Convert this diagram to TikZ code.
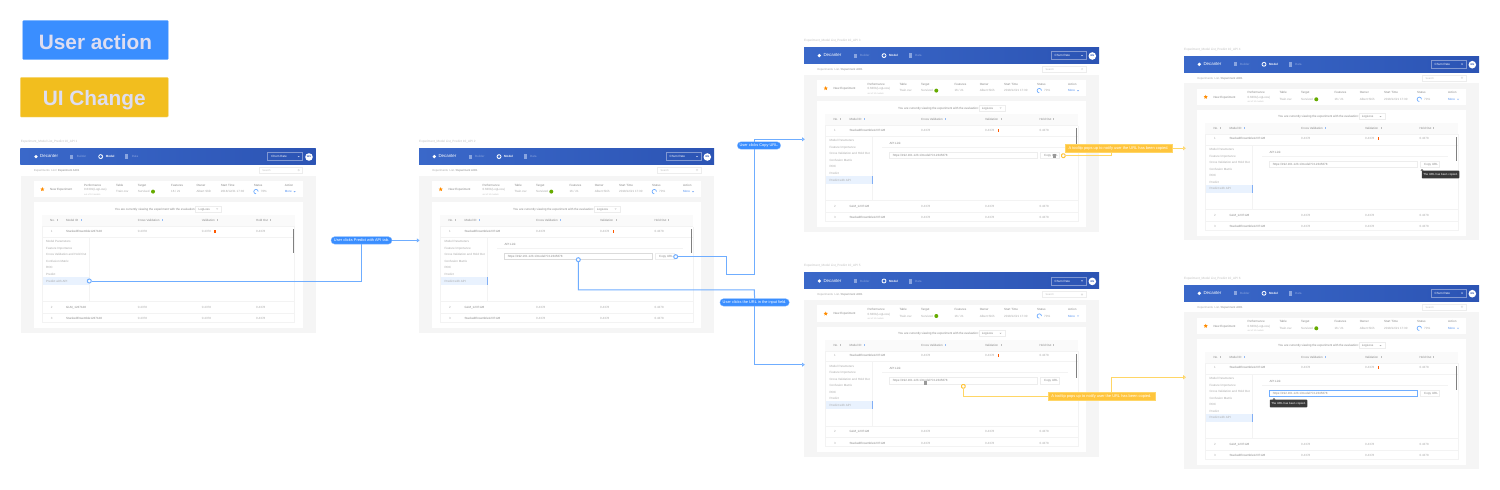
\documentclass[tikz,border=0pt]{standalone}
\usepackage{fontspec}
\setmainfont{Liberation Sans}
\usetikzlibrary{arrows.meta,shapes.geometric,calc}
\definecolor{hdrL}{HTML}{3A68C9}
\definecolor{hdrR}{HTML}{2C54B4}
\definecolor{hdrEdge}{HTML}{7FA6EE}
\definecolor{pageBg}{HTML}{F5F5F5}
\definecolor{headBg}{HTML}{FAFAFA}
\definecolor{ruleC}{HTML}{F3F3F3}
\definecolor{boxC}{HTML}{EDEDED}
\definecolor{txtDark}{HTML}{868686}
\definecolor{txtMid}{HTML}{A8A8A8}
\definecolor{txtPale}{HTML}{C0C0C0}
\definecolor{navHi}{HTML}{E9F2FE}
\definecolor{accent}{HTML}{4C8DF0}
\definecolor{flowBlue}{HTML}{6FADFF}
\definecolor{pillBlue}{HTML}{3A8EFF}
\definecolor{flowYel}{HTML}{FFD666}
\definecolor{pillYel}{HTML}{FFC53D}
\definecolor{legBlue}{HTML}{3A8EFF}
\definecolor{legYel}{HTML}{F2BE1E}
\definecolor{legTxt}{HTML}{DDDDF0}
\newcounter{tn}
\tikzset{
 lbl/.style={anchor=west,inner sep=0pt,text height=2.5pt,text depth=0.4pt,font=\fontsize{3}{3.6}\selectfont,text=txtMid},
 dark/.style={text=txtDark},
 pale/.style={text=txtPale},
 wht/.style={text=white},
 flowb/.style={draw=flowBlue,line width=1pt},
 flowy/.style={draw=flowYel,line width=1pt},
 tipb/.style={-{Triangle[open,length=2.8pt,width=4pt]}},
 hotb/.style={circle,draw=flowBlue,fill=white,line width=1pt,inner sep=0pt,minimum size=4pt},
 hoty/.style={rectangle,rounded corners=1pt,draw=pillYel,fill=white,line width=1pt,inner sep=0pt,minimum size=3.6pt},
 pillb/.style={rectangle,rounded corners=3.6pt,fill=pillBlue,draw=pillBlue!60!white,line width=0.3pt,inner sep=0pt,minimum height=7.4pt,text=white,font=\fontsize{3.9}{4.4}\selectfont},
 pilly/.style={rectangle,fill=pillYel,draw=flowYel,line width=0.3pt,inner sep=0pt,minimum height=7.8pt,text=white,font=\fontsize{3.95}{4.4}\selectfont},
 legend/.style={rectangle,rounded corners=1pt,inner sep=0pt,text=legTxt,font=\fontsize{20.8}{24}\bfseries\selectfont},
 tip/.style={rectangle,rounded corners=0.6pt,fill=black!78,inner sep=0pt,minimum width=37.5pt,minimum height=7.6pt,text=white,font=\fontsize{2.9}{3.4}\selectfont},
 thinrule/.style={draw=ruleC,line width=0.9pt},
 thinbox/.style={draw=#1,line width=0.8pt,fill=white},
}
\newcommand{\tx}[4][]{\stepcounter{tn}\node[lbl,#1] (tx\thetn) at (#2,#3) {#4};}
\newcommand{\screen}[4]{%
\begin{scope}[shift={(#2,#3)}]
 \fill[pageBg] (0,27.3) rectangle (295,184.3);
 \fill[hdrEdge] (-0.3,-0.3) rectangle (295.3,16.3);
 \shade[left color=hdrL,right color=hdrR] (0,0) rectangle (295,16);
 \fill[white] (13.3,32.7) rectangle (282,49);
 \fill[white] (13.3,54) rectangle (282,179.7);
 \fill[headBg] (21.3,67) rectangle (274,78.3);
 \fill[navHi] (21.3,128.7) rectangle (68.7,136.7);
 \draw[thinrule] (21.3,78.3) -- (21.3,174) -- (274,174) -- (274,78.3);
 \draw[thinrule] (21.3,78.3) -- (274,78.3);
 \draw[thinrule] (21.3,89) -- (274,89);
 \draw[thinrule] (21.3,153.3) -- (274,153.3);
 \draw[thinrule] (21.3,165) -- (274,165);
 \draw[thinrule] (68.7,89) -- (68.7,153.3);
 \draw[thinbox=boxC] (238.7,19) rectangle (282,25);
 \draw[thinbox=boxC] (175,57.7) rectangle (201,63.7);
 \fill[black!50] (272.2,81) rectangle (273.2,105);
 \fill[white] (15.3,8.3) circle (1.8pt);
 \fill[white!40!hdrL] (49.5,6.3) rectangle (52.5,10.3);
 \fill[white] (80,8.3) circle (2.4pt);
 \fill[hdrL] (80,8.3) circle (1.6pt);
 \fill[white!40!hdrL] (104.5,5.8) rectangle (107.5,10.8);
 \draw[white!40!hdrR,line width=0.6pt] (247,4.3) rectangle (282,12.3);
 \fill[white!70!hdrL] (277,7.7) -- (279,7.7) -- (278,8.9) -- cycle;
 \fill[white] (288.3,8.7) circle (3.8pt);
 \draw[black!15,line width=0.3pt] (278,21.8) circle (0.9pt);
 \fill[green!45!black!60!yellow] (132.3,43.3) circle (2pt);
 \draw[flowBlue,line width=0.7pt] (237.5,43.3) arc (0:270:2.2pt);
 \fill[accent!70] (273,42.9) -- (275,42.9) -- (274,44) -- cycle;
 \fill[black!30] (195.5,60.2) -- (197.5,60.2) -- (196.5,61.2) -- cycle;
 \foreach \sx/\sc in {36.3/black!25,60.3/accent!60,141/accent!60,196.7/black!25,249/black!25}
   \fill[\sc] (\sx-0.2,70.8) rectangle (\sx+0.2,72.8);
 \fill[orange!70!red] (193.5,81.2) rectangle (195,84.2);
 \tx[pale,font=\fontsize{3.1}{3.6}\selectfont]{0}{-7}{Experiment\_Model List\_Predict 10\_API #4}
 \tx[wht,font=\fontsize{4.4}{5}\selectfont]{19.3}{8.4}{Decanter}
 \tx[text=white!40!hdrL]{56}{8.4}{Builder}
 \tx[wht,font=\fontsize{3}{3.6}\bfseries\selectfont]{85}{8.4}{Model}
 \tx[text=white!40!hdrL]{111}{8.4}{Data}
 \tx[wht]{250.5}{8.4}{Churn Rate}
 \node[inner sep=0pt,text=hdrR,font=\fontsize{2.5}{3}\bfseries\selectfont] (av#1) at (288.3,8.7) {WS};
 \tx[font=\fontsize{2.8}{3.4}\selectfont]{13.3}{22}{Experiments\ \ List / \textcolor{txtDark}{Experiment A001}}
 \tx[text=black!25,font=\fontsize{2.6}{3}\selectfont]{241.5}{22}{Search}
 \node[star,star points=5,star point ratio=2.2,fill=orange!90!yellow,inner sep=0pt,minimum size=4.4pt] (star#1) at (21.7,41) {};
 \tx[dark]{29.3}{41}{New Experiment}
 \tx[dark]{63.3}{36.7}{Performance}
 \tx{63.3}{41.3}{0.6301(LogLoss)}
 \tx[pale,font=\fontsize{2.2}{2.6}\selectfont]{63.3}{45.7}{out of 10 models}
 \tx[dark]{95.3}{36.7}{Table}
 \tx{95.3}{43.3}{Train.csv}
 \tx[dark]{117}{36.7}{Target}
 \tx{117}{43.3}{Survived}
 \tx[dark]{150.3}{36.7}{Features}
 \tx{150.3}{43.3}{16 / 21}
 \tx[dark]{175.7}{36.7}{Owner}
 \tx{175.7}{43.3}{Albert Shih}
 \tx[dark]{200}{36.7}{Start Time}
 \tx{200}{43.3}{2018/12/21 17:30}
 \tx[dark]{233}{36.7}{Status}
 \tx{240}{43.3}{70\%}
 \tx[dark]{264}{36.7}{Action}
 \tx[text=accent]{264}{43.3}{More}
 \tx[dark]{94}{60.7}{You are currently viewing the experiment with the evaluation:}
 \tx[dark]{177.7}{60.7}{LogLoss}
 \tx[dark]{29.3}{72.3}{No.}
 \tx[dark]{45.3}{72.3}{Model ID}
 \tx[dark]{117}{72.3}{Cross Validation}
 \tx[dark]{181}{72.3}{Validation}
 \tx[dark]{235.3}{72.3}{Hold Out}
 \tx{30}{82.7}{1}
 \tx[dark]{45.3}{82.7}{StackedEnsemble1237128}
 \tx{117}{82.7}{0.4378}
 \tx{181}{82.7}{0.4378}
 \tx{235.3}{82.7}{0.4378}
 \tx{25.3}{93.3}{Model Parameters}
 \tx{25.3}{100}{Feature Importance}
 \tx{25.3}{106.3}{Cross Validation and Hold Out}
 \tx{25.3}{113}{Confusion Matrix}
 \tx{25.3}{119.3}{ROC}
 \tx{25.3}{126}{Predict}
 \tx{25.3}{132.7}{Predict with API}
 \tx{30}{159}{2}
 \tx[dark]{45.3}{159}{GLM\_1237128}
 \tx{117}{159}{0.4378}
 \tx{181}{159}{0.4378}
 \tx{235.3}{159}{0.4378}
 \tx{30}{170.3}{3}
 \tx[dark]{45.3}{170.3}{StackedEnsemble1237128}
 \tx{117}{170.3}{0.4378}
 \tx{181}{170.3}{0.4378}
 \tx{235.3}{170.3}{0.4378}
\end{scope}}
\newcommand{\apipanel}[4]{%
\begin{scope}[shift={(#2,#3)}]
 \fill[accent!70] (68.2,128.7) rectangle (69.2,136.7);
 \draw[thinrule] (78,100) -- (264,100);
 \draw[thinbox=#4] (85.3,105) rectangle (233.7,111.3);
 \draw[thinbox=boxC] (236.7,105) rectangle (255,111.3);
 \tx[dark]{85.3}{96}{API Link}
 \tx[text=txtDark]{88.7}{108.2}{https://192.161.123.1/model?i=12345678}
 \tx[dark]{240}{108.2}{Copy URL}
\end{scope}}
\begin{document}
\begin{tikzpicture}[x=1pt,y=-1pt]
\useasboundingbox (0,0) rectangle (1500,490);
\fill[white] (0,0) rectangle (1500,490);
\node[legend,fill=legBlue,draw=legBlue!60!white,line width=0.3pt,minimum width=145.6pt,minimum height=39.4pt,text height=19.3pt,text depth=0.7pt] (legendA) at (95.5,40) {User action};
\node[legend,fill=legYel,draw=legYel!60!white,line width=0.3pt,minimum width=148pt,minimum height=39.7pt,text height=18.1pt,text depth=1.9pt] (legendB) at (94.3,97.2) {UI Change};
\screen{a}{20.7}{148.3}{1}
\screen{b}{419}{148.3}{2}\apipanel{b}{419}{148.3}{black!14}
\screen{c}{804}{47.3}{3}\apipanel{c}{804}{47.3}{boxC}
\screen{d}{1184}{56}{4}\apipanel{d}{1184}{56}{boxC}
\screen{e}{804}{272.7}{5}\apipanel{e}{804}{272.7}{boxC}
\screen{f}{1184}{285}{6}\apipanel{f}{1184}{285}{flowBlue}
\node[tip] (tipd) at (1440.5,174.5) {The URL has been copied.};
\node[tip] (tipf) at (1288.5,403.5) {The URL has been copied.};
\fill[black!78] (1420.5,170.7) -- (1422,169.2) -- (1423.5,170.7) -- cycle;
\fill[black!78] (1272.5,399.7) -- (1274,398.2) -- (1275.5,399.7) -- cycle;
\fill[black!40] (1053.3,153.5) rectangle (1056.3,157.8);
\fill[black!40] (924.2,381) rectangle (927.2,384.6);
\node[pillb,minimum width=61pt] (pillPredict) at (361.5,240.4) {User clicks Predict with API tab.};
\node[pillb,minimum width=43.4pt] (pillCopy) at (759,145.5) {User clicks Copy URL.};
\node[pillb,minimum width=69.4pt] (pillField) at (754.6,302.4) {User clicks the URL in the input field.};
\node[pilly,minimum width=106.7pt] (pillTopTip) at (1118.6,148.3) {A tooltip pops up to notify user the URL has been copied.};
\node[pilly,minimum width=106.7pt] (pillLowTip) at (1101.4,396.4) {A tooltip pops up to notify user the URL has been copied.};
\node[hotb] (hotPredict) at (89.3,281) {};
\node[hotb] (hotCopy) at (675.7,256.7) {};
\node[hotb] (hotField) at (578.3,259.7) {};
\node[hoty] (hotTop) at (1063.3,155.7) {};
\node[hoty] (hotLow) at (963.3,386.3) {};
\coordinate (enterB) at (419.6,240.4);
\coordinate (enterC) at (804.8,139.3);
\coordinate (enterE) at (804.8,364.7);
\coordinate (enterD) at (1185.8,148.3);
\coordinate (enterF) at (1186,377.3);
\coordinate (copyA) at (726.7,256.7);
\coordinate (copyB) at (726.7,274.3);
\coordinate (copyC) at (754.3,274.3);
\coordinate (copyD) at (754.3,149.1);
\coordinate (copyE) at (754.3,141.8);
\coordinate (copyF) at (754.3,139.3);
\coordinate (fieldA) at (578.3,289.8);
\coordinate (fieldB) at (754.3,289.8);
\coordinate (topA) at (1111.7,155.7);
\coordinate (lowA) at (963.3,396.4);
\coordinate (lowB) at (1111.3,377.3);
\draw[flowb] (hotPredict) -| (pillPredict.south);
\draw[flowb,tipb] (pillPredict) -- (enterB);
\draw[flowb] (hotCopy) -- (copyA) -- (copyB) -- (copyC) -- (copyD);
\draw[flowb,tipb] (copyE) -- (copyF) -- (enterC);
\draw[flowb] (hotField) -- (fieldA) -- (fieldB) -- (pillField.north);
\draw[flowb,tipb] (pillField.south) |- (enterE);
\draw[flowy] (hotTop) -- (topA) -- (topA |- pillTopTip.south);
\draw[flowy,tipb] (pillTopTip.east) -- (enterD);
\draw[flowy] (hotLow) -- (lowA) -- (pillLowTip.west);
\draw[flowy,tipb] (pillLowTip.north -| lowB) -- (lowB) -- (enterF);
\end{tikzpicture}
\end{document}
